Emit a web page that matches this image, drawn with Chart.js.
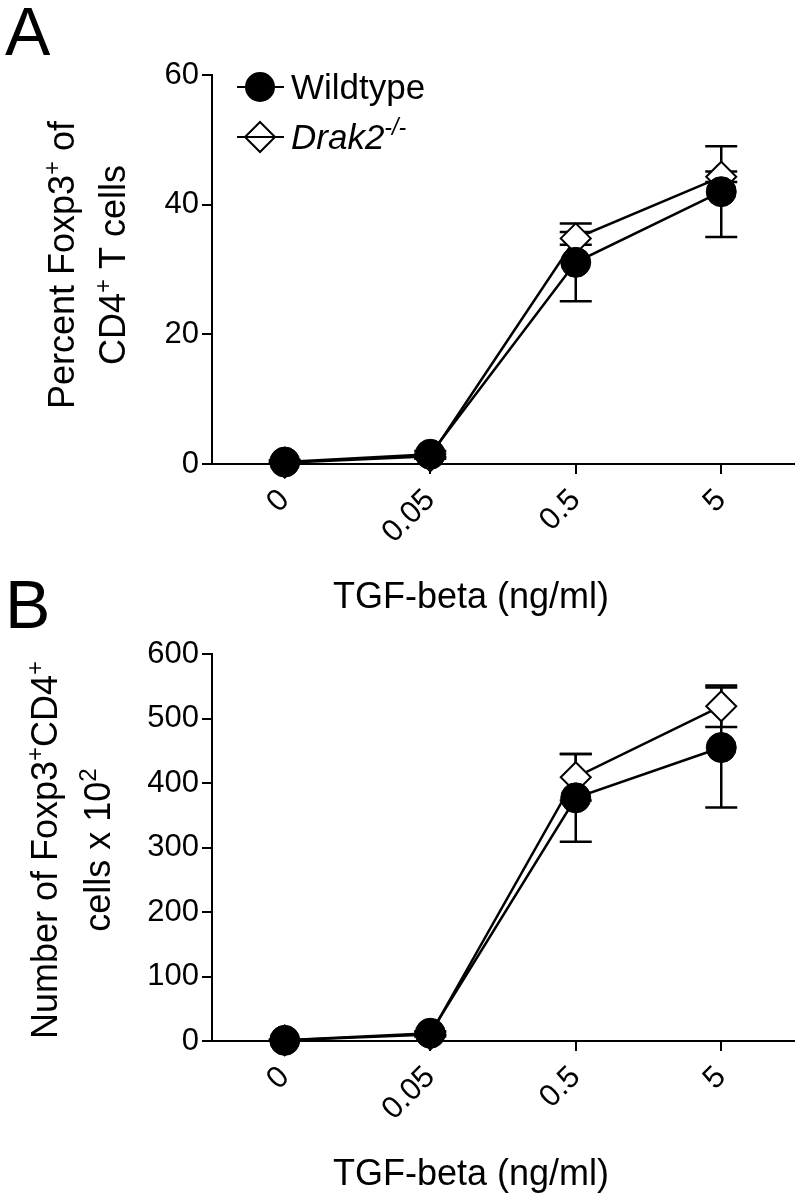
<!DOCTYPE html>
<html>
<head>
<meta charset="utf-8">
<script src="https://cdn.jsdelivr.net/npm/chart.js@4.4.1/dist/chart.umd.min.js"></script>
<style>
  body { margin: 0; background: #fff; }
  #wrap { position: relative; width: 800px; height: 1203px; }
  canvas { position: absolute; left: 0; }
  #chartA { top: 0; }
  #chartB { top: 570px; }
</style>
</head>
<body>
<div id="wrap">
  <canvas id="chartA" width="800" height="630"></canvas>
  <canvas id="chartB" width="800" height="633"></canvas>
</div>
<script>
// TGF-beta doses (x axis categories)
const doses = ["0", "0.05", "0.5", "5"];

// panel A: percent Foxp3+ of CD4+ T cells
const pctWildtype = [0.3, 1.5, 31.1, 42.0];
const pctWildtypeErr = [0.3, 0.5, 6.0, 7.0];
const pctDrak2 = [0.2, 1.2, 34.8, 44.3];
const pctDrak2Err = [0.2, 0.4, 1.0, 0.8];

// panel B: number of Foxp3+CD4+ cells x 10^2
const numWildtype = [1, 12, 377, 455];
const numWildtypeErr = [1, 3, 68, 93];
const numDrak2 = [1, 10, 409, 519];
const numDrak2Err = [1, 3, 36, 32];

const FONT = '"Liberation Sans", Arial, sans-serif';

// draws text pieces, some of them superscript or italic
function drawRich(ctx, parts, x, y, size, align) {
  const fontFor = (p) => (p.it ? "italic " : "") + Math.round(p.sup ? size * 0.66 : size) + "px " + FONT;
  let total = 0;
  parts.forEach((p) => {
    ctx.font = fontFor(p);
    total += ctx.measureText(p.t).width;
  });
  let cx = align === "center" ? x - total / 2 : x;
  ctx.textAlign = "left";
  ctx.textBaseline = "alphabetic";
  parts.forEach((p) => {
    ctx.font = fontFor(p);
    ctx.fillText(p.t, cx, p.sup ? y - size * 0.4 : y);
    cx += ctx.measureText(p.t).width;
  });
}

// error bars, drawn under the markers
const errorBars = {
  id: "errorBars",
  beforeDatasetsDraw(chart) {
    const ctx = chart.ctx;
    const xs = chart.scales.x;
    const ys = chart.scales.y;
    ctx.save();
    ctx.strokeStyle = "#000";
    ctx.lineWidth = 2.5;
    chart.data.datasets.forEach((ds) => {
      ds.data.forEach((v, i) => {
        const e = ds.errors[i];
        const x = xs.getPixelForValue(i);
        const yTop = ys.getPixelForValue(v + e);
        const yBot = ys.getPixelForValue(Math.max(v - e, 0));
        ctx.beginPath();
        ctx.moveTo(x, yTop);
        ctx.lineTo(x, yBot);
        ctx.moveTo(x - 16, yTop);
        ctx.lineTo(x + 16, yTop);
        if (v - e > 0) {
          ctx.moveTo(x - 16, yBot);
          ctx.lineTo(x + 16, yBot);
        }
        ctx.stroke();
      });
    });
    ctx.restore();
  },
};

// panel letters, axis titles and legend
function annotations(opts) {
  return {
    id: "annotations",
    afterDraw(chart) {
      const ctx = chart.ctx;
      ctx.save();
      ctx.fillStyle = "#000";
      ctx.font = "68px " + FONT;
      ctx.textAlign = "left";
      ctx.fillText(opts.letter, 5, opts.letterY);

      drawRich(ctx, [{ t: "TGF-beta (ng/ml)" }], 471, opts.xTitleY, 36, "center");

      opts.yTitle.forEach((line, k) => {
        ctx.save();
        ctx.translate(opts.yTitleX[k], opts.yTitleCY);
        ctx.rotate(-Math.PI / 2);
        drawRich(ctx, line, 0, 0, 36, "center");
        ctx.restore();
      });

      if (opts.legend) {
        ctx.strokeStyle = "#000";
        ctx.lineWidth = 2;
        // Wildtype
        ctx.beginPath();
        ctx.moveTo(237, 87);
        ctx.lineTo(284, 87);
        ctx.stroke();
        ctx.beginPath();
        ctx.arc(260, 87, 15, 0, Math.PI * 2);
        ctx.fillStyle = "#000";
        ctx.fill();
        drawRich(ctx, [{ t: "Wildtype" }], 291, 99, 35, "left");
        // Drak2-/-
        ctx.beginPath();
        ctx.moveTo(237, 137);
        ctx.lineTo(284, 137);
        ctx.stroke();
        ctx.beginPath();
        ctx.moveTo(260, 122);
        ctx.lineTo(275, 137);
        ctx.lineTo(260, 152);
        ctx.lineTo(245, 137);
        ctx.closePath();
        ctx.fillStyle = "#fff";
        ctx.fill();
        ctx.stroke();
        ctx.beginPath();
        ctx.moveTo(245, 137);
        ctx.lineTo(275, 137);
        ctx.stroke();
        ctx.fillStyle = "#000";
        drawRich(ctx, [{ t: "Drak2", it: true }, { t: "-/-", it: true, sup: true }], 291, 149, 35, "left");
      }
      ctx.restore();
    },
  };
}

function makePanel(canvasId, wt, wtErr, dk, dkErr, yMax, yStep, top, bottom, canvasH, opts) {
  const xAxisH = 100;
  const config = {
    type: "line",
    data: {
      labels: doses,
      datasets: [
        {
          label: "Wildtype",
          data: wt,
          errors: wtErr,
          borderColor: "#000",
          borderWidth: 2.5,
          backgroundColor: "#000",
          pointStyle: "circle",
          pointRadius: 15,
          pointHoverRadius: 15,
          pointBackgroundColor: "#000",
          pointBorderColor: "#000",
          pointBorderWidth: 1,
          tension: 0,
          clip: false,
        },
        {
          label: "Drak2-/-",
          data: dk,
          errors: dkErr,
          borderColor: "#000",
          borderWidth: 2.5,
          backgroundColor: "#fff",
          pointStyle: "rectRot",
          pointRadius: 15,
          pointHoverRadius: 15,
          pointBackgroundColor: "#fff",
          pointBorderColor: "#000",
          pointBorderWidth: 2,
          tension: 0,
          clip: false,
        },
      ],
    },
    options: {
      responsive: false,
      animation: false,
      events: [],
      layout: {
        autoPadding: false,
        padding: { left: 0, right: 6, top: top, bottom: canvasH - bottom - xAxisH },
      },
      plugins: {
        legend: { display: false },
        tooltip: { enabled: false },
      },
      scales: {
        x: {
          type: "category",
          offset: true,
          afterFit: (s) => {
            s.height = xAxisH;
            s.paddingLeft = 0;
            s.paddingRight = 0;
          },
          border: { display: true, color: "#000", width: 2 },
          grid: {
            offset: false,
            drawOnChartArea: false,
            drawTicks: true,
            tickLength: 10,
            color: "#000",
            lineWidth: 2,
          },
          ticks: {
            color: "#000",
            font: { family: FONT, size: 31 },
            minRotation: 45,
            maxRotation: 45,
            padding: 8,
          },
        },
        y: {
          min: 0,
          max: yMax,
          afterFit: (s) => { s.width = 212; },
          border: { display: true, color: "#000", width: 2 },
          grid: {
            drawOnChartArea: false,
            drawTicks: true,
            tickLength: 10,
            color: "#000",
            lineWidth: 2,
          },
          ticks: {
            stepSize: yStep,
            color: "#000",
            font: { family: FONT, size: 31 },
            padding: 3,
          },
        },
      },
    },
    plugins: [errorBars, annotations(opts)],
  };
  return new Chart(document.getElementById(canvasId), config);
}

makePanel("chartA", pctWildtype, pctWildtypeErr, pctDrak2, pctDrak2Err, 60, 20, 75, 464, 630, {
  letter: "A",
  letterY: 55,
  xTitleY: 608,
  yTitle: [
    [{ t: "Percent Foxp3" }, { t: "+", sup: true }, { t: " of" }],
    [{ t: "CD4" }, { t: "+", sup: true }, { t: " T cells" }],
  ],
  yTitleX: [74, 125],
  yTitleCY: 265,
  legend: true,
});

makePanel("chartB", numWildtype, numWildtypeErr, numDrak2, numDrak2Err, 600, 100, 84, 471, 633, {
  letter: "B",
  letterY: 58,
  xTitleY: 615,
  yTitle: [
    [{ t: "Number of Foxp3" }, { t: "+", sup: true }, { t: "CD4" }, { t: "+", sup: true }],
    [{ t: "cells x 10" }, { t: "2", sup: true }],
  ],
  yTitleX: [57, 110],
  yTitleCY: 280,
  legend: false,
});
</script>
</body>
</html>
